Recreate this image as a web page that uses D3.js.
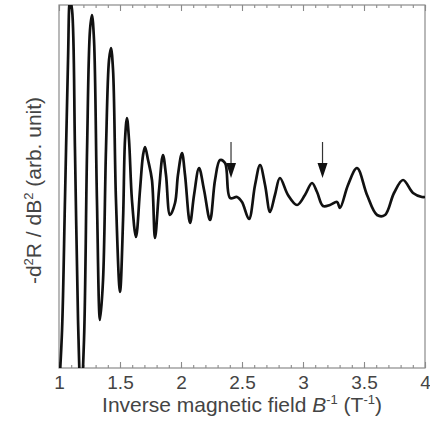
<!DOCTYPE html>
<html>
<head>
<script src="https://cdn.jsdelivr.net/npm/d3@7/dist/d3.min.js"></script>
<style>
  body { margin: 0; background: #fff; }
  text { font-family: "Liberation Sans", Arial, sans-serif; }
</style>
</head>
<body>
<svg id="mainsvg" width="430" height="427"></svg>
<script>
// inverse field B^-1 (T^-1)
const invB = [1.000,1.025,1.049,1.074,1.090,1.107,1.131,1.156,1.180,1.205,1.230,1.254,1.270,1.287,1.311,
  1.336,1.361,1.385,1.410,1.426,1.443,1.467,1.500,1.525,1.541,1.557,1.574,1.598,1.631,1.664,1.689,1.705,
  1.730,1.762,1.787,1.820,1.852,1.877,1.910,1.951,1.975,2.008,2.033,2.074,2.107,2.148,2.189,2.238,2.279,
  2.320,2.361,2.402,2.459,2.500,2.557,2.607,2.648,2.689,2.730,2.770,2.811,2.877,2.951,3.016,3.074,3.115,
  3.164,3.221,3.279,3.303,3.369,3.443,3.525,3.607,3.672,3.746,3.820,3.902,3.975,4.000];
// -d2R/dB2 (arb. unit)
const signal = [-200,-140,-10,130,190,180,40,-130,-210,-150,40,160,175,150,-10,
  -130,-90,40,130,142,120,-10,-102,-30,50,72,50,-10,-47,0,35,43,
  30,10,-48,0,35,15,-25,-13,15,37,15,-33,-5,22,0,-30,10,
  30,27,-8,-7,-12,-29,5,25,5,-22,-5,12,-5,-15,-5,7,-2,
  -16,-15,-12,-18,5,22,-5,-25,-25,-3,10,-3,-7,-7];
// arrows marking features
const arrowAt = [2.41, 3.16];
const xTicks = [1, 1.5, 2, 2.5, 3, 3.5, 4];

const svg = d3.select('#mainsvg');
const margin = {top: 5, right: 5, bottom: 59, left: 59};
const innerWidth = 430 - margin.left - margin.right;
const innerHeight = 427 - margin.top - margin.bottom;

const xScale = d3.scaleLinear().domain([1, 4]).range([0, innerWidth]);
const yScale = d3.scaleLinear().domain([-178, 185]).range([innerHeight, 0]);

const g = svg.append('g').attr('transform', `translate(${margin.left},${margin.top})`);

g.append('clipPath').attr('id', 'clip')
  .append('rect').attr('width', innerWidth).attr('height', innerHeight);

// minor ticks every 0.1
const minor = d3.range(1, 4.0001, 0.1);
const axisColor = '#8a8a8a';
const drawAxis = (axis, ty, keepText) => {
  const a = g.append('g').attr('transform', `translate(0,${ty})`).call(axis);
  a.select('.domain').remove();
  a.selectAll('line').attr('stroke', axisColor).attr('stroke-width', 1.1);
  if (!keepText) a.selectAll('text').remove();
  return a;
};
drawAxis(d3.axisBottom(xScale).tickValues(minor).tickSize(-3), innerHeight, false);
drawAxis(d3.axisTop(xScale).tickValues(minor).tickSize(-3), 0, false);
drawAxis(d3.axisTop(xScale).tickValues(xTicks).tickSize(-6), 0, false);
const xAx = drawAxis(d3.axisBottom(xScale).tickValues(xTicks).tickSize(-6).tickPadding(8)
  .tickFormat(d3.format('')), innerHeight, true);
xAx.selectAll('text').attr('font-size', 19).attr('fill', '#444');

// frame
g.append('rect').attr('width', innerWidth).attr('height', innerHeight)
  .attr('fill', 'none').attr('stroke', axisColor).attr('stroke-width', 1.2);

// curve
const pts = invB.map((d, i) => [d, signal[i]]);
const line = d3.line().x(d => xScale(d[0])).y(d => yScale(d[1])).curve(d3.curveCatmullRom.alpha(0.5));
g.append('path').datum(pts).attr('clip-path', 'url(#clip)')
  .attr('d', line).attr('fill', 'none').attr('stroke', '#111')
  .attr('stroke-width', 2.7).attr('stroke-linejoin', 'round');

// arrows
arrowAt.forEach(a => {
  const x = xScale(a);
  g.append('line').attr('x1', x).attr('x2', x)
    .attr('y1', yScale(48)).attr('y2', yScale(26))
    .attr('stroke', '#333').attr('stroke-width', 1.2);
  g.append('path')
    .attr('d', `M${x - 5},${yScale(27)} L${x + 5},${yScale(27)} L${x},${yScale(12)} Z`)
    .attr('fill', '#111');
});

// axis labels
const xl = svg.append('text').attr('x', margin.left + innerWidth / 2).attr('y', 412)
  .attr('text-anchor', 'middle').attr('font-size', 21).attr('fill', '#444');
xl.append('tspan').text('Inverse magnetic field ');
xl.append('tspan').attr('font-style', 'italic').text('B');
xl.append('tspan').attr('font-size', 13).attr('dy', -8).text('-1');
xl.append('tspan').attr('dy', 8).text(' (T');
xl.append('tspan').attr('font-size', 13).attr('dy', -8).text('-1');
xl.append('tspan').attr('dy', 8).text(')');

const yl = svg.append('text')
  .attr('transform', `translate(41,${margin.top + innerHeight / 2 + 4}) rotate(-90)`)
  .attr('text-anchor', 'middle').attr('font-size', 21).attr('fill', '#444');
yl.append('tspan').text('-d');
yl.append('tspan').attr('font-size', 13).attr('dy', -8).text('2');
yl.append('tspan').attr('dy', 8).text('R / dB');
yl.append('tspan').attr('font-size', 13).attr('dy', -8).text('2');
yl.append('tspan').attr('dy', 8).text(' (arb. unit)');
</script>
</body>
</html>
